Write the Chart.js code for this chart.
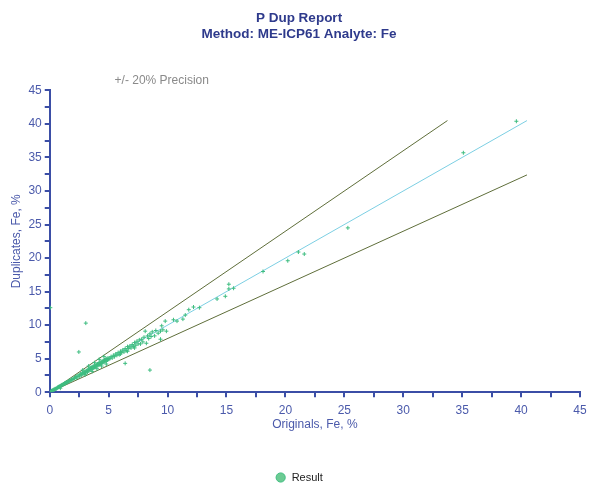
<!DOCTYPE html>
<html>
<head>
<meta charset="utf-8">
<script src="https://cdn.jsdelivr.net/npm/chart.js@4.4.0/dist/chart.umd.min.js"></script>
<style>
html,body{margin:0;padding:0;background:#fff;}
#wrap{width:589px;height:483px;position:relative;}
</style>
</head>
<body>
<div id="wrap"><canvas id="c" width="589" height="483"></canvas></div>
<script>
const titleLines = ['P Dup Report', 'Method: ME-ICP61 Analyte: Fe'];
const xAxisTitle = 'Originals, Fe, %';
const yAxisTitle = 'Duplicates, Fe, %';
const precisionLabel = '+/- 20% Precision';
const seriesName = 'Result';
const axisMin = 0, axisMax = 45, tickStep = 2.5, labelStep = 5;
const refMax = 40.5;
const precision = 0.2;

const originals = [
  0.1,0.15,0.2,0.25,0.3,0.35,0.4,0.45,0.5,0.55,0.6,0.65,0.7,0.75,0.8,0.85,0.9,0.9,0.95,1.0,
  1.05,1.1,1.15,1.2,1.25,1.3,1.35,1.4,1.45,1.5,1.6,1.65,1.7,1.8,1.85,1.9,2.0,
  0.05,2.47,3.06,8.5,
  2.1,2.2,2.25,2.3,2.4,2.5,2.55,2.6,2.7,2.75,2.8,2.9,2.95,3.0,3.05,3.1,3.2,3.25,3.3,3.35,
  3.4,3.45,3.5,3.55,3.6,3.65,3.7,3.75,3.8,3.85,3.9,3.95,4.0,4.05,4.1,4.15,4.2,4.25,4.3,4.35,
  4.4,4.45,4.5,4.55,4.6,4.65,4.7,4.75,4.8,4.85,4.9,4.95,5.0,
  2.8,3.3,3.8,4.2,4.6,3.0,3.6,4.0,4.4,4.8,
  5.1,5.2,5.3,5.4,5.5,5.6,5.7,5.8,5.9,6.0,6.0,6.1,6.2,6.3,6.4,6.4,6.5,6.6,6.6,6.7,
  6.8,6.9,7.0,7.1,7.2,7.2,7.3,7.4,7.5,7.6,7.7,7.8,7.9,8.0,8.1,8.2,8.3,8.4,8.5,8.6,
  8.7,8.9,9.0,9.2,9.4,9.5,9.6,9.8,9.9,9.4,
  10.5,10.8,11.3,11.5,11.8,12.2,12.7,14.2,14.9,15.2,15.2,15.6,18.1,20.2,21.1,21.6,25.3,35.1,39.6
];
const duplicates = [
  0.1,0.2,0.2,0.3,0.3,0.4,0.4,0.5,0.5,0.5,0.6,0.7,0.7,0.8,0.8,0.9,0.9,0.6,1.0,1.0,
  1.1,1.1,1.2,1.2,1.3,1.3,1.4,1.4,1.5,1.5,1.6,1.7,1.7,1.8,1.9,1.9,2.0,
  12.6,6.0,10.3,3.3,
  2.1,2.3,2.1,2.4,2.3,2.6,2.4,2.7,2.6,2.9,2.7,3.0,2.8,3.1,2.9,3.2,3.0,3.4,3.2,3.5,
  3.3,3.6,3.4,3.7,3.5,3.8,3.6,3.9,3.7,4.0,3.8,4.1,3.9,4.2,4.0,4.3,4.1,4.4,4.2,4.5,
  4.3,4.6,4.4,4.7,4.5,4.8,4.6,4.9,4.7,5.0,4.8,5.1,4.9,
  3.3,3.9,4.4,4.9,5.3,2.6,3.1,3.5,3.9,4.2,
  5.0,5.3,5.1,5.5,5.3,5.7,5.5,5.9,5.6,5.7,6.1,5.9,6.3,6.0,4.3,6.5,6.2,6.1,6.8,6.5,
  6.9,6.6,7.1,6.8,6.6,7.4,7.0,7.6,7.2,7.8,7.2,7.9,7.5,8.2,9.1,7.3,8.4,8.0,8.7,8.3,
  9.0,8.4,9.2,8.8,7.9,9.9,9.3,10.6,9.1,9.1,
  10.8,10.6,10.9,11.5,12.3,12.7,12.6,13.9,14.3,16.1,15.4,15.5,18.0,19.6,20.9,20.6,24.5,35.7,40.4
];

const points = originals.map((v, i) => ({x: v, y: duplicates[i]}));
const blue = '#3b4ea6';
const textBlue = '#4b5aab';
const fontFam = '"Liberation Sans", Arial, sans-serif';

const precisionText = {
  id: 'precisionText',
  afterDraw(chart) {
    const ctx = chart.ctx;
    const xs = chart.scales.x;
    ctx.save();
    ctx.font = '12px ' + fontFam;
    ctx.fillStyle = '#8a8a8a';
    ctx.textBaseline = 'middle';
    ctx.fillText(precisionLabel, xs.getPixelForValue(5.5), chart.chartArea.top - 10);
    ctx.restore();
  }
};

new Chart(document.getElementById('c'), {
  type: 'scatter',
  data: {
    datasets: [
      {
        label: seriesName,
        data: points,
        pointStyle: 'cross',
        pointRadius: 2,
        pointBorderWidth: 1,
        borderColor: '#3fbd80',
        backgroundColor: '#6ccb93',
        order: 0
      },
      {
        label: 'Upper',
        type: 'line',
        data: [{x: 0, y: 0}, {x: refMax / (1 + precision), y: refMax}],
        borderColor: '#5f6e3a',
        borderWidth: 1,
        pointRadius: 0,
        fill: false,
        order: 2
      },
      {
        label: 'Equal',
        type: 'line',
        data: [{x: 0, y: 0}, {x: refMax, y: refMax}],
        borderColor: '#7ccfe3',
        borderWidth: 1,
        pointRadius: 0,
        fill: false,
        order: 1
      },
      {
        label: 'Lower',
        type: 'line',
        data: [{x: 0, y: 0}, {x: refMax, y: refMax * (1 - precision)}],
        borderColor: '#5f6e3a',
        borderWidth: 1,
        pointRadius: 0,
        fill: false,
        order: 2
      }
    ]
  },
  options: {
    responsive: false,
    animation: false,
    layout: {padding: {left: 9, right: 0, top: 6, bottom: -10}},
    plugins: {
      title: {
        display: true,
        text: titleLines,
        color: '#2e3a8c',
        font: {family: fontFam, size: 13.5, weight: 'bold', lineHeight: 1.2},
        padding: {top: 4, bottom: 48}
      },
      legend: {
        position: 'bottom',
        labels: {
          filter: (item) => item.text === seriesName,
          usePointStyle: true,
          pointStyle: 'circle',
          boxWidth: 23,
          boxHeight: 6.5,
          padding: 2,
          color: '#222',
          font: {family: fontFam, size: 11}
        }
      },
      tooltip: {enabled: false}
    },
    scales: {
      x: {
        type: 'linear',
        min: axisMin, max: axisMax,
        afterFit: (s) => { s.paddingRight = 9; },
        ticks: {
          stepSize: tickStep,
          autoSkip: false,
          maxRotation: 0,
          color: textBlue,
          padding: 6,
          font: {family: fontFam, size: 12},
          callback: (v) => (v % labelStep === 0 ? v : '')
        },
        grid: {drawOnChartArea: false, drawTicks: true, tickLength: 5, color: blue, lineWidth: 2},
        border: {color: blue, width: 2},
        title: {
          display: true, text: xAxisTitle, color: textBlue,
          font: {family: fontFam, size: 12},
          padding: {top: -6, bottom: 38}
        }
      },
      y: {
        type: 'linear',
        min: axisMin, max: axisMax,
        ticks: {
          stepSize: tickStep,
          autoSkip: false,
          color: textBlue,
          padding: 3,
          font: {family: fontFam, size: 12},
          callback: (v) => (v % labelStep === 0 ? v : '')
        },
        grid: {drawOnChartArea: false, drawTicks: true, tickLength: 5, color: blue, lineWidth: 2},
        border: {color: blue, width: 2},
        title: {
          display: true, text: yAxisTitle, color: textBlue,
          font: {family: fontFam, size: 12},
          padding: {top: 0, bottom: 2}
        }
      }
    }
  },
  plugins: [precisionText]
});
</script>
</body>
</html>
